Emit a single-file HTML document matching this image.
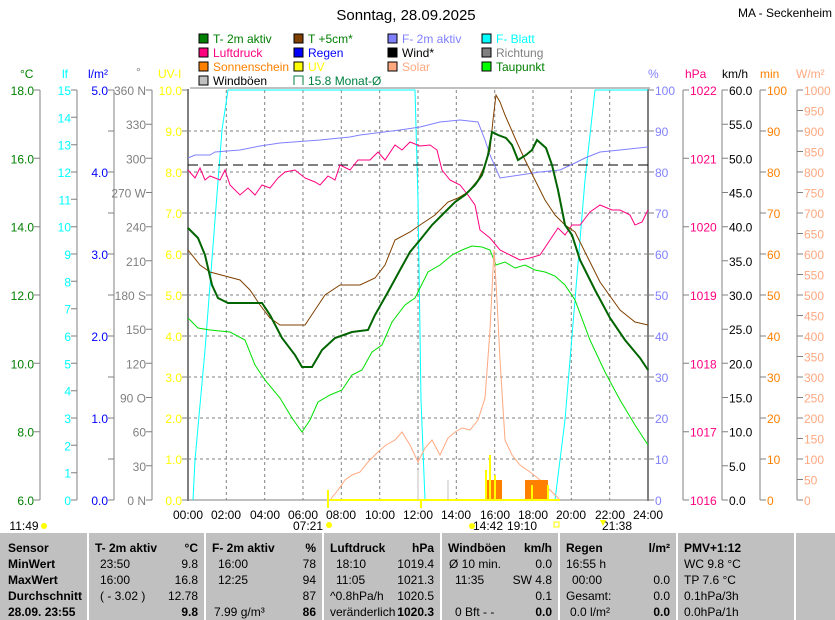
<!DOCTYPE html><html><head><style>body{margin:0;background:#fff}svg{display:block;font-family:"Liberation Sans",sans-serif}</style></head><body>
<svg width="835" height="620" viewBox="0 0 835 620" xmlns="http://www.w3.org/2000/svg">
<rect width="835" height="620" fill="#fff"/>
<text x="406" y="20" font-size="15" text-anchor="middle">Sonntag, 28.09.2025</text>
<text x="832" y="17" font-size="12" text-anchor="end">MA - Seckenheim</text>
<g font-size="12">
<rect x="199" y="34" width="9" height="9" fill="#008000" stroke="#000"/><text x="213" y="43" fill="#008000">T- 2m aktiv</text>
<rect x="199" y="48" width="9" height="9" fill="#ff0080" stroke="#000"/><text x="213" y="57" fill="#ff0080">Luftdruck</text>
<rect x="199" y="62" width="9" height="9" fill="#ff8000" stroke="#000"/><text x="213" y="71" fill="#ff8000">Sonnenschein</text>
<rect x="199" y="76" width="9" height="9" fill="#c0c0c0" stroke="#000"/><text x="213" y="85" fill="#000">Windböen</text>
<rect x="294" y="34" width="9" height="9" fill="#804000" stroke="#000"/><text x="308" y="43" fill="#008000">T +5cm*</text>
<rect x="294" y="48" width="9" height="9" fill="#0000ff" stroke="#000"/><text x="308" y="57" fill="#0000ff">Regen</text>
<rect x="294" y="62" width="9" height="9" fill="#ffff00" stroke="#000"/><text x="308" y="71" fill="#ffff00">UV</text>
<path d="M303 85V76h-9v9" fill="none" stroke="#008040"/><text x="308" y="85" fill="#008040">15.8 Monat-Ø</text>
<rect x="388" y="34" width="9" height="9" fill="#8080ff" stroke="#000"/><text x="402" y="43" fill="#8080ff">F- 2m aktiv</text>
<rect x="388" y="48" width="9" height="9" fill="#000" stroke="#000"/><text x="402" y="57">Wind*</text>
<rect x="388" y="62" width="9" height="9" fill="#ffa880" stroke="#000"/><text x="402" y="71" fill="#ffa880">Solar</text>
<rect x="482" y="34" width="9" height="9" fill="#00ffff" stroke="#000"/><text x="496" y="43" fill="#00ffff">F- Blatt</text>
<rect x="482" y="48" width="9" height="9" fill="#808080" stroke="#000"/><text x="496" y="57" fill="#808080">Richtung</text>
<rect x="482" y="62" width="9" height="9" fill="#00ff00" stroke="#000"/><text x="496" y="71" fill="#008000">Taupunkt</text>
</g>
<line x1="190" y1="88" x2="650" y2="88" stroke="#808080"/>
<g font-size="12">
<text x="20" y="78" fill="#008000">°C</text><text x="62" y="78" fill="#00ffff">lf</text><text x="88" y="78" fill="#0000ff">l/m²</text><text x="136" y="76" fill="#808080">°</text><text x="158" y="78" fill="#ffff00">UV-I</text>
<text x="648" y="78" fill="#8080ff">%</text><text x="685" y="78" fill="#ff0080">hPa</text><text x="722" y="78">km/h</text><text x="760" y="78" fill="#ff8000">min</text><text x="796" y="78" fill="#ffa880">W/m²</text>
</g>
<g stroke="#808080" stroke-dasharray="3,3">
<path d="M226.3 90V500M264.7 90V500M303 90V500M341.3 90V500M379.7 90V500M418 90V500M456.3 90V500M494.7 90V500M533 90V500M571.3 90V500M609.7 90V500"/>
<path d="M188 131H648M188 172H648M188 213H648M188 254H648M188 295H648M188 336H648M188 377H648M188 418H648M188 459H648"/>
</g>
<g stroke="#808080" fill="none">
<path d="M40 90V500M77 90V500M114 90V500M152 90V500M683 90V500M722 90V500M760 90V500M797 90V500"/>
<path d="M34 500h6M34 431.7h6M34 363.3h6M34 295h6M34 226.7h6M34 158.3h6M34 90h6"/>
<path d="M71 500h6M71 472.7h6M71 445.3h6M71 418h6M71 390.7h6M71 363.3h6M71 336h6M71 308.7h6M71 281.3h6M71 254h6M71 226.7h6M71 199.3h6M71 172h6M71 144.7h6M71 117.3h6M71 90h6"/>
<path d="M108 500h6M108 459h6M108 418h6M108 377h6M108 336h6M108 295h6M108 254h6M108 213h6M108 172h6M108 131h6M108 90h6"/>
<path d="M146 500h6M146 465.8h6M146 431.7h6M146 397.5h6M146 363.3h6M146 329.2h6M146 295h6M146 260.8h6M146 226.7h6M146 192.5h6M146 158.3h6M146 124.2h6M146 90h6"/>
<path d="M182 500h6M182 459h6M182 418h6M182 377h6M182 336h6M182 295h6M182 254h6M182 213h6M182 172h6M182 131h6M182 90h6"/>
<path d="M648 500h6M648 459h6M648 418h6M648 377h6M648 336h6M648 295h6M648 254h6M648 213h6M648 172h6M648 131h6M648 90h6"/>
<path d="M683 500h6M683 431.7h6M683 363.3h6M683 295h6M683 226.7h6M683 158.3h6M683 90h6"/>
<path d="M722 500h6M722 465.8h6M722 431.7h6M722 397.5h6M722 363.3h6M722 329.2h6M722 295h6M722 260.8h6M722 226.7h6M722 192.5h6M722 158.3h6M722 124.2h6M722 90h6"/>
<path d="M760 500h6M760 459h6M760 418h6M760 377h6M760 336h6M760 295h6M760 254h6M760 213h6M760 172h6M760 131h6M760 90h6"/>
<path d="M797 500h6M797 479.5h6M797 459h6M797 438.5h6M797 418h6M797 397.5h6M797 377h6M797 356.5h6M797 336h6M797 315.5h6M797 295h6M797 274.5h6M797 254h6M797 233.5h6M797 213h6M797 192.5h6M797 172h6M797 151.5h6M797 131h6M797 110.5h6M797 90h6"/>
</g>
<g font-size="12" text-anchor="end">
<g fill="#008000"><text x="34" y="505">6.0</text><text x="34" y="436.7">8.0</text><text x="34" y="368.3">10.0</text><text x="34" y="300">12.0</text><text x="34" y="231.7">14.0</text><text x="34" y="163.3">16.0</text><text x="34" y="95">18.0</text></g>
<g fill="#00ffff"><text x="71" y="505">0</text><text x="71" y="477.7">1</text><text x="71" y="450.3">2</text><text x="71" y="423">3</text><text x="71" y="395.7">4</text><text x="71" y="368.3">5</text><text x="71" y="341">6</text><text x="71" y="313.7">7</text><text x="71" y="286.3">8</text><text x="71" y="259">9</text><text x="71" y="231.7">10</text><text x="71" y="204.3">11</text><text x="71" y="177">12</text><text x="71" y="149.7">13</text><text x="71" y="122.3">14</text><text x="71" y="95">15</text></g>
<g fill="#0000ff"><text x="108" y="505">0.0</text><text x="108" y="423">1.0</text><text x="108" y="341">2.0</text><text x="108" y="259">3.0</text><text x="108" y="177">4.0</text><text x="108" y="95">5.0</text></g>
<g fill="#808080"><text x="146" y="505">0 N</text><text x="146" y="470.8">30</text><text x="146" y="436.7">60</text><text x="146" y="402.5">90 O</text><text x="146" y="368.3">120</text><text x="146" y="334.2">150</text><text x="146" y="300">180 S</text><text x="146" y="265.8">210</text><text x="146" y="231.7">240</text><text x="146" y="197.5">270 W</text><text x="146" y="163.3">300</text><text x="146" y="129.2">330</text><text x="146" y="95">360 N</text></g>
<g fill="#ffff00"><text x="182" y="505">0.0</text><text x="182" y="464">1.0</text><text x="182" y="423">2.0</text><text x="182" y="382">3.0</text><text x="182" y="341">4.0</text><text x="182" y="300">5.0</text><text x="182" y="259">6.0</text><text x="182" y="218">7.0</text><text x="182" y="177">8.0</text><text x="182" y="136">9.0</text><text x="182" y="95">10.0</text></g>
</g>
<g font-size="12">
<g fill="#8080ff"><text x="655" y="505">0</text><text x="655" y="464">10</text><text x="655" y="423">20</text><text x="655" y="382">30</text><text x="655" y="341">40</text><text x="655" y="300">50</text><text x="655" y="259">60</text><text x="655" y="218">70</text><text x="655" y="177">80</text><text x="655" y="136">90</text><text x="655" y="95">100</text></g>
<g fill="#ff0080"><text x="690" y="505">1016</text><text x="690" y="436.7">1017</text><text x="690" y="368.3">1018</text><text x="690" y="300">1019</text><text x="690" y="231.7">1020</text><text x="690" y="163.3">1021</text><text x="690" y="95">1022</text></g>
<g fill="#000"><text x="729" y="505">0.0</text><text x="729" y="470.8">5.0</text><text x="729" y="436.7">10.0</text><text x="729" y="402.5">15.0</text><text x="729" y="368.3">20.0</text><text x="729" y="334.2">25.0</text><text x="729" y="300">30.0</text><text x="729" y="265.8">35.0</text><text x="729" y="231.7">40.0</text><text x="729" y="197.5">45.0</text><text x="729" y="163.3">50.0</text><text x="729" y="129.2">55.0</text><text x="729" y="95">60.0</text></g>
<g fill="#ff8000"><text x="767" y="505">0</text><text x="767" y="464">10</text><text x="767" y="423">20</text><text x="767" y="382">30</text><text x="767" y="341">40</text><text x="767" y="300">50</text><text x="767" y="259">60</text><text x="767" y="218">70</text><text x="767" y="177">80</text><text x="767" y="136">90</text><text x="767" y="95">100</text></g>
<g fill="#ffa880"><text x="804" y="505">0</text><text x="804" y="484.5">50</text><text x="804" y="464">100</text><text x="804" y="443.5">150</text><text x="804" y="423">200</text><text x="804" y="402.5">250</text><text x="804" y="382">300</text><text x="804" y="361.5">350</text><text x="804" y="341">400</text><text x="804" y="320.5">450</text><text x="804" y="300">500</text><text x="804" y="279.5">550</text><text x="804" y="259">600</text><text x="804" y="238.5">650</text><text x="804" y="218">700</text><text x="804" y="197.5">750</text><text x="804" y="177">800</text><text x="804" y="156.5">850</text><text x="804" y="136">900</text><text x="804" y="115.5">950</text><text x="804" y="95">1000</text></g>
</g>
<rect x="187" y="89" width="2" height="412" fill="#808080"/><rect x="647" y="89" width="2" height="412" fill="#808080"/>
<line x1="188" y1="500" x2="648" y2="500" stroke="#808080"/>
<g fill="none" stroke-width="1">
<polyline stroke="#00ffff" points="193,500 195,460 205,350 215,220 222,130 228,90 415,90 418,200 421,400 425,500 555,500 565,420 575,300 585,180 595,90 648,90"/>
<line x1="188" y1="165" x2="648" y2="165" stroke="#000" stroke-dasharray="10,5"/>
<polyline stroke="#8080ff" points="188,158 195,155 210,155 215,152 240,150 260,146 280,143 320,140 350,137 360,135 400,130 420,127 440,122 460,120 478,122 485,140 490,155 500,178 520,175 540,172 560,170 575,163 585,158 600,152 620,150 648,147"/>
<polyline stroke="#ff0080" points="188,170 195,178 200,168 205,180 210,176 220,180 225,170 230,185 240,195 248,188 255,195 262,185 270,188 278,178 285,172 295,170 305,178 315,182 320,185 328,176 335,180 340,165 350,170 358,160 370,160 378,152 385,160 395,145 402,150 410,142 420,146 430,145 437,150 442,170 450,180 460,185 468,195 475,205 480,230 490,238 500,250 510,255 520,260 530,258 540,255 550,240 558,228 565,235 572,225 580,225 590,212 600,205 612,210 620,210 630,215 635,225 642,222 648,210"/>
<polyline stroke="#804000" points="188,250 200,265 210,272 225,276 240,280 250,290 260,305 270,318 280,325 305,325 315,310 325,295 340,285 360,285 375,278 385,265 395,240 410,232 420,225 435,215 448,202 458,198 468,192 478,180 485,165 490,150 493,120 496,95 500,102 505,115 515,138 525,160 535,180 545,200 555,215 565,225 575,232 590,262 600,282 620,310 635,322 648,325"/>
<polyline stroke="#00e000" points="188,318 198,328 210,330 230,332 245,340 255,365 265,380 280,398 292,418 302,432 310,420 318,402 330,395 342,390 352,375 362,370 372,352 382,345 392,322 405,305 415,298 428,272 440,265 452,255 462,250 472,246 482,247 490,250 496,265 505,262 515,268 525,265 535,270 545,272 555,276 565,285 575,300 590,340 605,372 620,400 635,425 648,445"/>
<polyline stroke="#006400" stroke-width="2" points="188,228 198,238 205,255 212,285 218,298 228,303 262,303 270,315 282,338 295,355 302,367 312,367 322,350 335,338 352,332 368,330 375,315 388,292 400,270 410,252 420,240 432,225 442,215 455,202 465,195 475,185 482,175 488,155 492,132 498,135 506,138 512,145 518,160 526,155 532,150 537,140 546,148 552,165 558,190 565,225 572,235 580,260 595,290 610,318 625,340 640,358 648,370"/>
<polyline stroke="#ffa880" points="330,500 338,490 345,480 352,475 360,472 368,462 378,452 386,445 395,440 402,432 410,445 418,462 425,448 432,440 440,455 448,438 455,432 462,428 470,430 478,420 485,398 490,330 494,250 497,300 500,360 505,440 512,455 520,465 530,472 540,480 550,490 560,500"/>
</g>
<g fill="#ff8000"><rect x="487" y="480" width="15" height="20"/><rect x="525" y="480" width="23" height="20"/></g>
<g stroke="#ffff00" fill="none" stroke-width="2">
<path d="M330 500H560"/><path d="M486 500V470M490 500V455M495 500V475M532 500V485M548 500V485"/>
<path d="M328 490V508M421 500V508"/>
</g>
<path d="M418 500V470M448 500V480" stroke="#c0c0c0"/>
<g font-size="12" text-anchor="middle">
<text x="188" y="519">00:00</text><text x="226" y="519">02:00</text><text x="265" y="519">04:00</text><text x="303" y="519">06:00</text><text x="341" y="519">08:00</text><text x="380" y="519">10:00</text><text x="418" y="519">12:00</text><text x="456" y="519">14:00</text><text x="495" y="519">16:00</text><text x="533" y="519">18:00</text><text x="571" y="519">20:00</text><text x="610" y="519">22:00</text><text x="648" y="519">24:00</text>
<text x="308" y="530">07:21</text><text x="488" y="530">14:42</text><text x="522" y="530">19:10</text><text x="617" y="530">21:38</text>
<text x="24" y="530">11:49</text>
</g>
<circle cx="329" cy="525" r="3" fill="#ffff00"/><circle cx="44" cy="526" r="3" fill="#ffff00"/><circle cx="472" cy="526" r="3" fill="#ffff00"/><rect x="554" y="522" width="5" height="5" fill="none" stroke="#ffff00"/><path d="M600 520l3 6 3-6z" fill="#ffff00"/>
<rect x="0" y="533" width="835" height="87" fill="#c0c0c0"/>
<g stroke="#fff" stroke-width="2"><path d="M88 533V620M205 533V620M323 533V620M441 533V620M559 533V620M677 533V620M795 533V620"/></g>
<g font-size="12" font-weight="bold">
<text x="8" y="552">Sensor</text><text x="8" y="568">MinWert</text><text x="8" y="584">MaxWert</text><text x="8" y="600">Durchschnitt</text><text x="8" y="616">28.09. 23:55</text>
<text x="95" y="552">T- 2m aktiv</text><text x="198" y="552" text-anchor="end">°C</text>
<text x="212" y="552">F- 2m aktiv</text><text x="316" y="552" text-anchor="end">%</text>
<text x="330" y="552">Luftdruck</text><text x="434" y="552" text-anchor="end">hPa</text>
<text x="448" y="552">Windböen</text><text x="552" y="552" text-anchor="end">km/h</text>
<text x="566" y="552">Regen</text><text x="670" y="552" text-anchor="end">l/m²</text>
<text x="684" y="552">PMV+1:12</text>
<text x="198" y="616" text-anchor="end">9.8</text><text x="316" y="616" text-anchor="end">86</text><text x="434" y="616" text-anchor="end">1020.3</text><text x="552" y="616" text-anchor="end">0.0</text><text x="670" y="616" text-anchor="end">0.0</text>
</g>
<g font-size="12">
<text x="100" y="568">23:50</text><text x="198" y="568" text-anchor="end">9.8</text>
<text x="100" y="584">16:00</text><text x="198" y="584" text-anchor="end">16.8</text>
<text x="100" y="600">( - 3.02 )</text><text x="198" y="600" text-anchor="end">12.78</text>
<text x="218" y="568">16:00</text><text x="316" y="568" text-anchor="end">78</text>
<text x="218" y="584">12:25</text><text x="316" y="584" text-anchor="end">94</text>
<text x="316" y="600" text-anchor="end">87</text>
<text x="214" y="616">7.99 g/m³</text>
<text x="336" y="568">18:10</text><text x="434" y="568" text-anchor="end">1019.4</text>
<text x="336" y="584">11:05</text><text x="434" y="584" text-anchor="end">1021.3</text>
<text x="330" y="600">^0.8hPa/h</text><text x="434" y="600" text-anchor="end">1020.5</text>
<text x="330" y="616">veränderlich</text>
<text x="449" y="568">Ø 10 min.</text><text x="552" y="568" text-anchor="end">0.0</text>
<text x="455" y="584">11:35</text><text x="552" y="584" text-anchor="end">SW 4.8</text>
<text x="552" y="600" text-anchor="end">0.1</text>
<text x="455" y="616">0 Bft - -</text>
<text x="566" y="568">16:55 h</text>
<text x="572" y="584">00:00</text><text x="670" y="584" text-anchor="end">0.0</text>
<text x="566" y="600">Gesamt:</text><text x="670" y="600" text-anchor="end">0.0</text>
<text x="570" y="616">0.0 l/m²</text>
<text x="684" y="568">WC 9.8 °C</text><text x="684" y="584">TP 7.6 °C</text><text x="684" y="600">0.1hPa/3h</text><text x="684" y="616">0.0hPa/1h</text>
</g>
</svg></body></html>
